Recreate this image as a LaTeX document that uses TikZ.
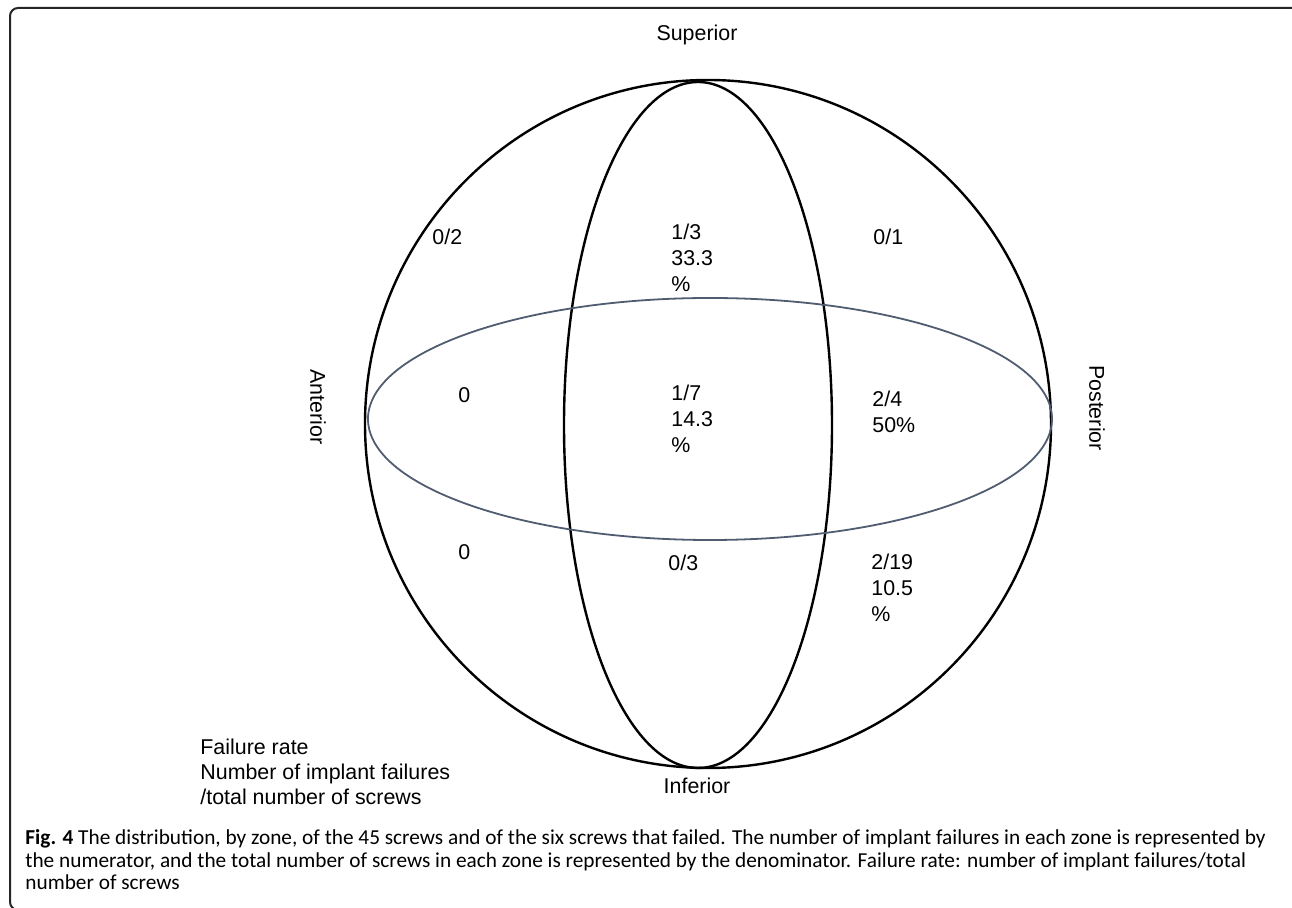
\documentclass[tikz,border=0pt]{standalone}
\usepackage{fontspec}
\setmainfont{Liberation Sans}
\newfontfamily\capfont{Carlito}

\begin{document}
\begin{tikzpicture}[x=0.5pt,y=-0.5pt,
  zone/.style={inner sep=0pt,anchor=west,align=left,font=\fontsize{10.7}{13}\selectfont},
  side/.style={inner sep=0pt,font=\fontsize{10.7}{13}\selectfont}]
  \useasboundingbox (0,0) rectangle (1292,908);
  \draw[line width=1pt,black!85,rounded corners=4pt] (10,8) rectangle (1300,910);

  \draw[line width=1.2pt] (708,424) ellipse [x radius=171.5pt, y radius=172pt];
  \draw[line width=1.2pt] (698,425) ellipse [x radius=67pt, y radius=171.5pt];
  \draw[line width=0.9pt,color={rgb,255:red,80;green,92;blue,112}] (710,419) ellipse [x radius=171pt, y radius=60.5pt];

  \node[side] (sup) at (697,35) {Superior};
  \node[side] (inf) at (697,786) {Inferior};
  \node[side,rotate=-90] (ant) at (318,407) {Anterior};
  \node[side,rotate=-90] (post) at (1097,408) {Posterior};

  \node[zone] (z1) at (432,237) {0/2};
  \node[zone] (z2) at (671,258) {1/3\\33.3\\\%};
  \node[zone] (z3) at (873,237) {0/1};
  \node[zone] (z4) at (458,395) {0};
  \node[zone] (z5) at (671,419) {1/7\\14.3\\\%};
  \node[zone] (z6) at (872,412) {2/4\\50\%};
  \node[zone] (z7) at (458,552) {0};
  \node[zone] (z8) at (668,563) {0/3};
  \node[zone] (z9) at (871,588) {2/19\\10.5\\\%};

  \node[zone,font=\fontsize{10.7}{12.5}\selectfont] (key) at (200,772) {Failure rate\\Number of implant failures\\/total number of screws};

  \node[inner sep=0pt,anchor=north west,align=left,font=\capfont\fontsize{10.65}{11.4}\selectfont] (caption) at (25,829)
    {\textbf{Fig. 4} The distribution, by zone, of the 45 screws and of the six screws that failed. The number of implant failures in each zone is represented by\\
     the numerator, and the total number of screws in each zone is represented by the denominator. Failure rate: number of implant failures/total\\
     number of screws};
\end{tikzpicture}
\end{document}
